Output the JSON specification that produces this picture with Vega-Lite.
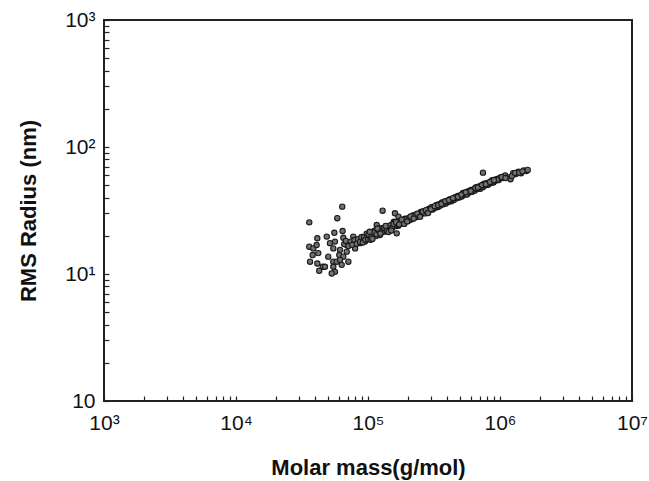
{
  "$schema": "https://vega.github.io/schema/vega-lite/v6.json",
  "autosize": "none",
  "width": 528,
  "height": 381,
  "padding": {"left": 104, "top": 20, "right": 17, "bottom": 80},
  "background": "white",
  "config": {
    "view": {"stroke": "#222222", "strokeWidth": 2},
    "font": "Liberation Sans",
    "axis": {
      "grid": false,
      "domain": false,
      "ticks": true,
      "tickSize": -5,
      "tickColor": "#222222",
      "tickWidth": 1.2,
      "labelFont": "Liberation Sans",
      "labelFontSize": 21,
      "labelColor": "#111111",
      "labelFlush": false,
      "labelOverlap": false,
      "labelBound": false,
      "titleFont": "Liberation Sans",
      "titleFontSize": 22,
      "titleFontWeight": "bold",
      "titleColor": "#111111"
    }
  },
  "data": {
    "values": [
      {"mass": 35900, "radius": 25.5}, {"mass": 63800, "radius": 33.9}, {"mass": 58500, "radius": 27.5},
      {"mass": 129000, "radius": 31.5}, {"mass": 743000, "radius": 62.8},
      {"mass": 160000, "radius": 30.1}, {"mass": 170000, "radius": 28.3}, {"mass": 157000, "radius": 25.8}, {"mass": 165000, "radius": 20.9},
      {"mass": 41300, "radius": 19.1}, {"mass": 48700, "radius": 19.7}, {"mass": 55600, "radius": 21.1},
      {"mass": 64200, "radius": 21.8}, {"mass": 65000, "radius": 19.3}, {"mass": 77400, "radius": 19.7},
      {"mass": 35900, "radius": 16.4}, {"mass": 38500, "radius": 15.9}, {"mass": 40800, "radius": 16.9},
      {"mass": 38100, "radius": 14.1}, {"mass": 42000, "radius": 14.6}, {"mass": 36400, "radius": 12.5},
      {"mass": 41300, "radius": 12.1}, {"mass": 45400, "radius": 11.4}, {"mass": 42700, "radius": 10.6},
      {"mass": 47200, "radius": 11.4}, {"mass": 51500, "radius": 17.5}, {"mass": 54600, "radius": 15.9},
      {"mass": 56200, "radius": 18.0}, {"mass": 50000, "radius": 13.7}, {"mass": 54600, "radius": 12.5},
      {"mass": 57900, "radius": 12.5}, {"mass": 54600, "radius": 11.4}, {"mass": 56200, "radius": 10.4},
      {"mass": 53100, "radius": 10.1}, {"mass": 61400, "radius": 15.5}, {"mass": 60600, "radius": 14.1},
      {"mass": 65000, "radius": 13.7}, {"mass": 69000, "radius": 15.0}, {"mass": 69000, "radius": 16.9},
      {"mass": 73100, "radius": 17.5}, {"mass": 79800, "radius": 15.9}, {"mass": 86900, "radius": 17.5},
      {"mass": 94900, "radius": 18.0}, {"mass": 97800, "radius": 19.7}, {"mass": 106600, "radius": 20.3},
      {"mass": 113000, "radius": 21.8}, {"mass": 116400, "radius": 24.3}, {"mass": 123300, "radius": 22.2},
      {"mass": 61400, "radius": 12.9}, {"mass": 63200, "radius": 11.8}, {"mass": 71000, "radius": 12.5},
      {"mass": 66000, "radius": 17.2}, {"mass": 68000, "radius": 18.2}, {"mass": 71000, "radius": 16.6},
      {"mass": 74000, "radius": 18.0}, {"mass": 76000, "radius": 17.0}, {"mass": 79000, "radius": 18.5},
      {"mass": 82000, "radius": 17.3}, {"mass": 84000, "radius": 18.8}, {"mass": 87000, "radius": 17.9},
      {"mass": 90000, "radius": 19.6},
      {"mass": 89100, "radius": 19.5}, {"mass": 91200, "radius": 17.7}, {"mass": 93300, "radius": 19.4},
      {"mass": 95500, "radius": 18.6}, {"mass": 97700, "radius": 20.8}, {"mass": 100000, "radius": 18.8},
      {"mass": 102300, "radius": 20.0}, {"mass": 104700, "radius": 18.6}, {"mass": 107200, "radius": 21.0},
      {"mass": 109600, "radius": 20.1}, {"mass": 112200, "radius": 21.9}, {"mass": 114800, "radius": 19.9},
      {"mass": 117500, "radius": 21.1}, {"mass": 120200, "radius": 22.0}, {"mass": 123000, "radius": 20.3},
      {"mass": 125900, "radius": 22.9}, {"mass": 128800, "radius": 21.6}, {"mass": 131800, "radius": 22.7},
      {"mass": 134900, "radius": 21.6}, {"mass": 138000, "radius": 23.7}, {"mass": 141300, "radius": 22.3},
      {"mass": 144500, "radius": 23.5}, {"mass": 147900, "radius": 22.3}, {"mass": 151400, "radius": 24.5},
      {"mass": 154900, "radius": 23.8}, {"mass": 158500, "radius": 25.2}, {"mass": 162200, "radius": 23.8},
      {"mass": 166000, "radius": 25.3}, {"mass": 169800, "radius": 24.0}, {"mass": 173800, "radius": 26.1},
      {"mass": 177800, "radius": 25.1}, {"mass": 182000, "radius": 26.1}, {"mass": 186200, "radius": 25.3},
      {"mass": 190500, "radius": 27.2}, {"mass": 195000, "radius": 26.3}, {"mass": 199500, "radius": 27.4},
      {"mass": 204200, "radius": 26.4}, {"mass": 208900, "radius": 27.8}, {"mass": 213800, "radius": 27.2},
      {"mass": 218800, "radius": 28.9}, {"mass": 223900, "radius": 28.1}, {"mass": 229100, "radius": 29.3},
      {"mass": 234400, "radius": 28.1}, {"mass": 239900, "radius": 29.6}, {"mass": 245500, "radius": 29.0},
      {"mass": 251200, "radius": 30.8}, {"mass": 257000, "radius": 29.9}, {"mass": 263000, "radius": 31.2},
      {"mass": 269200, "radius": 30.3}, {"mass": 275400, "radius": 31.5}, {"mass": 281800, "radius": 30.7},
      {"mass": 288400, "radius": 32.5}, {"mass": 295100, "radius": 32.2}, {"mass": 302000, "radius": 33.6},
      {"mass": 309000, "radius": 32.2}, {"mass": 316200, "radius": 33.6}, {"mass": 323600, "radius": 33.3},
      {"mass": 331100, "radius": 35.0}, {"mass": 338800, "radius": 33.7}, {"mass": 346700, "radius": 35.4},
      {"mass": 354800, "radius": 35.1}, {"mass": 363100, "radius": 36.6}, {"mass": 371500, "radius": 35.4},
      {"mass": 380200, "radius": 36.9}, {"mass": 389000, "radius": 35.9}, {"mass": 398100, "radius": 37.7},
      {"mass": 407400, "radius": 37.0}, {"mass": 416900, "radius": 38.9}, {"mass": 426600, "radius": 37.4},
      {"mass": 436500, "radius": 39.0}, {"mass": 446700, "radius": 38.2}, {"mass": 457100, "radius": 40.3},
      {"mass": 467700, "radius": 39.5}, {"mass": 478600, "radius": 41.1}, {"mass": 489800, "radius": 40.0},
      {"mass": 501200, "radius": 41.6}, {"mass": 512900, "radius": 40.8}, {"mass": 524800, "radius": 43.4},
      {"mass": 537000, "radius": 42.1}, {"mass": 549500, "radius": 43.4}, {"mass": 562300, "radius": 42.2},
      {"mass": 575400, "radius": 44.8}, {"mass": 588800, "radius": 44.0}, {"mass": 602600, "radius": 45.8},
      {"mass": 616600, "radius": 44.4}, {"mass": 631000, "radius": 46.3}, {"mass": 645700, "radius": 45.4},
      {"mass": 660700, "radius": 48.2}, {"mass": 676100, "radius": 46.8}, {"mass": 691800, "radius": 48.8},
      {"mass": 707900, "radius": 46.9}, {"mass": 724400, "radius": 49.3}, {"mass": 741300, "radius": 48.3},
      {"mass": 758600, "radius": 51.3}, {"mass": 776200, "radius": 49.9}, {"mass": 794300, "radius": 51.9},
      {"mass": 812800, "radius": 50.5}, {"mass": 831800, "radius": 52.5}, {"mass": 851100, "radius": 52.1},
      {"mass": 871000, "radius": 54.7}, {"mass": 891300, "radius": 52.6}, {"mass": 912000, "radius": 55.4},
      {"mass": 933300, "radius": 54.4}, {"mass": 955000, "radius": 56.0}, {"mass": 977200, "radius": 54.9},
      {"mass": 1000000, "radius": 57.2}, {"mass": 1047000, "radius": 56.9}, {"mass": 1096000, "radius": 59.7},
      {"mass": 1148000, "radius": 57.7}, {"mass": 1202000, "radius": 55.7}, {"mass": 1259000, "radius": 62.2},
      {"mass": 1318000, "radius": 61.3}, {"mass": 1380000, "radius": 63.9}, {"mass": 1445000, "radius": 62.1},
      {"mass": 1514000, "radius": 65.4}, {"mass": 1585000, "radius": 64.8}, {"mass": 1622000, "radius": 66.0},
      {"mass": 101000, "radius": 20.6}, {"mass": 106000, "radius": 19.4}, {"mass": 111000, "radius": 21.2},
      {"mass": 116000, "radius": 20.6}, {"mass": 121000, "radius": 21.9}, {"mass": 127000, "radius": 21.2},
      {"mass": 133000, "radius": 23.0}, {"mass": 139000, "radius": 22.0}, {"mass": 146000, "radius": 24.0},
      {"mass": 152000, "radius": 23.0}, {"mass": 160000, "radius": 24.9}, {"mass": 168000, "radius": 24.4},
      {"mass": 176000, "radius": 25.8}, {"mass": 185000, "radius": 25.5}, {"mass": 194000, "radius": 26.9},
      {"mass": 205000, "radius": 27.5}, {"mass": 215000, "radius": 27.0}, {"mass": 228000, "radius": 28.8},
      {"mass": 240000, "radius": 28.6}, {"mass": 255000, "radius": 30.5}, {"mass": 270000, "radius": 30.0},
      {"mass": 290000, "radius": 32.0}, {"mass": 310000, "radius": 32.8}, {"mass": 330000, "radius": 34.5},
      {"mass": 350000, "radius": 34.5}, {"mass": 370000, "radius": 36.2}, {"mass": 400000, "radius": 37.2},
      {"mass": 430000, "radius": 38.6}, {"mass": 470000, "radius": 40.5}, {"mass": 520000, "radius": 42.5},
      {"mass": 580000, "radius": 44.0}, {"mass": 640000, "radius": 46.5}, {"mass": 700000, "radius": 48.0},
      {"mass": 760000, "radius": 50.0}, {"mass": 820000, "radius": 51.5}, {"mass": 890000, "radius": 53.5},
      {"mass": 950000, "radius": 55.2},
      {"mass": 103000, "radius": 21.5}, {"mass": 108000, "radius": 18.9}, {"mass": 118000, "radius": 22.8},
      {"mass": 124000, "radius": 20.8}, {"mass": 136000, "radius": 23.9}, {"mass": 143000, "radius": 21.4},
      {"mass": 150000, "radius": 22.0}, {"mass": 156000, "radius": 24.8}, {"mass": 163000, "radius": 25.6},
      {"mass": 172000, "radius": 24.6}, {"mass": 180000, "radius": 26.8}, {"mass": 188000, "radius": 24.8},
      {"mass": 198000, "radius": 25.9}, {"mass": 210000, "radius": 28.4}, {"mass": 222000, "radius": 27.3},
      {"mass": 236000, "radius": 29.9}, {"mass": 248000, "radius": 28.2}, {"mass": 260000, "radius": 31.0},
      {"mass": 275000, "radius": 31.8}, {"mass": 285000, "radius": 30.2}, {"mass": 300000, "radius": 32.4},
      {"mass": 320000, "radius": 34.2}, {"mass": 340000, "radius": 34.9}, {"mass": 360000, "radius": 35.6},
      {"mass": 385000, "radius": 37.4}, {"mass": 410000, "radius": 38.2}, {"mass": 440000, "radius": 39.6},
      {"mass": 480000, "radius": 40.5}, {"mass": 510000, "radius": 42.2}, {"mass": 550000, "radius": 44.0},
      {"mass": 600000, "radius": 45.0}, {"mass": 650000, "radius": 47.5}, {"mass": 680000, "radius": 48.0},
      {"mass": 730000, "radius": 50.2}, {"mass": 780000, "radius": 51.0}, {"mass": 840000, "radius": 53.0},
      {"mass": 900000, "radius": 54.8}, {"mass": 1030000, "radius": 58.0}, {"mass": 1100000, "radius": 57.0},
      {"mass": 1230000, "radius": 59.0}, {"mass": 1300000, "radius": 62.5}, {"mass": 1400000, "radius": 62.8},
      {"mass": 1480000, "radius": 64.3}
    ]
  },
  "mark": {
    "type": "point",
    "shape": "circle",
    "filled": true,
    "fill": "#727272",
    "stroke": "#1a1a1a",
    "strokeWidth": 1.1,
    "size": 28,
    "opacity": 1
  },
  "encoding": {
    "x": {
      "field": "mass",
      "type": "quantitative",
      "scale": {"type": "log", "domain": [1000, 10000000], "nice": false},
      "axis": {
        "title": "Molar mass(g/mol)",
        "titlePadding": 24,
        "labelPadding": 16,
        "values": [1000, 2000, 3000, 4000, 5000, 6000, 7000, 8000, 9000,
                   10000, 20000, 30000, 40000, 50000, 60000, 70000, 80000, 90000,
                   100000, 200000, 300000, 400000, 500000, 600000, 700000, 800000, 900000,
                   1000000, 2000000, 3000000, 4000000, 5000000, 6000000, 7000000, 8000000, 9000000,
                   10000000],
        "labelExpr": "datum.value == 1000 ? '10³' : datum.value == 10000 ? '10⁴' : datum.value == 100000 ? '10⁵' : datum.value == 1000000 ? '10⁶' : datum.value == 10000000 ? '10⁷' : ''"
      }
    },
    "y": {
      "field": "radius",
      "type": "quantitative",
      "scale": {"type": "log", "domain": [1, 1000], "nice": false},
      "axis": {
        "title": "RMS Radius (nm)",
        "titlePadding": 24,
        "labelPadding": 14,
        "values": [1, 2, 3, 4, 5, 6, 7, 8, 9,
                   10, 20, 30, 40, 50, 60, 70, 80, 90,
                   100, 200, 300, 400, 500, 600, 700, 800, 900,
                   1000],
        "labelExpr": "datum.value == 1 ? '10' : datum.value == 10 ? '10¹' : datum.value == 100 ? '10²' : datum.value == 1000 ? '10³' : ''"
      }
    }
  }
}
